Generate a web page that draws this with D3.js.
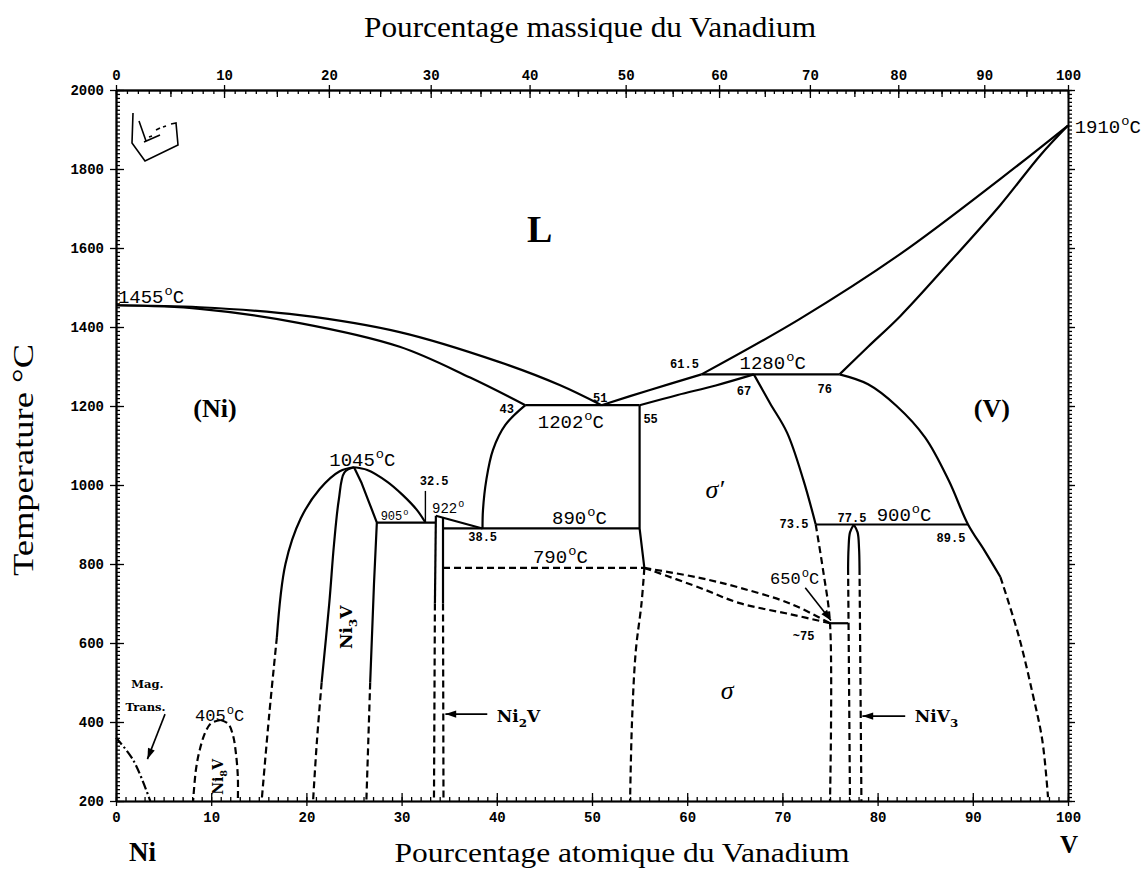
<!DOCTYPE html>
<html><head><meta charset="utf-8">
<script src="https://cdn.jsdelivr.net/npm/d3@7"></script>
<style>
body{margin:0;background:#fff}
svg{display:block}
</style></head><body>
<svg id="chart" width="1143" height="872"></svg>
<script>
// ---------- axis ticks ----------
const atTicks = d3.range(0, 101, 10);          // atomic % V (bottom)
const wtTicks = d3.range(0, 101, 10);          // mass % V (top)
const tempTicks = d3.range(200, 2001, 200);    // °C (left)

// ---------- phase boundaries, [at.% V, °C] ----------
const liquidusNi     = [[0,1455],[8.8,1450],[19.3,1430],[29.8,1387],[40.3,1311],[46.6,1253],[51,1202]];
const solidusNi      = [[0,1455],[8.8,1446],[19.3,1410],[29.8,1350],[37.2,1272],[43,1202]];
const eutectic1202   = [[43,1202],[55,1202]];
const liquidusSigma  = [[51,1202],[56,1240],[61.5,1280]];
const solidusSigma   = [[55,1202],[59,1228],[63,1252],[67,1280]];
const peritectic1280 = [[61.5,1280],[76,1280]];
const liquidusV      = [[61.5,1280],[71.8,1420],[82.4,1585],[92.9,1775],[100,1910]];
const solidusV       = [[76,1280],[79,1350],[82.4,1428],[87.6,1565],[92.9,1709],[97.1,1835],[100,1910]];
const solvusV        = [[76,1280],[79,1255],[82,1200],[85,1120],[87.5,1010],[89.5,900],[91.2,835],[92.9,767]];
const solvusVLow     = [[92.9,767],[94.8,620],[96.3,470],[97.3,354],[97.9,210]];
const solvusNiHigh   = [[43,1202],[40.9,1152],[39.6,1089],[38.9,1013],[38.55,937],[38.5,890]];
const sigmaPLeft     = [[55,1202],[55,890],[55.5,790]];
const sigmaLeftLow   = [[55.5,790],[55.2,700],[54.6,580],[54.2,400],[54,200]];
const sigmaPRight    = [[67,1280],[68.7,1207],[70.5,1132],[72.2,1013],[73.5,900]];
const sigmaRightLow  = [[73.5,900],[74.3,780],[75,650],[75,200]];
const eutectoid890   = [[34.35,890],[55,890]];
const line790        = [[34.35,790],[55.5,790]];
const eutectoid900   = [[73.5,900],[89.5,900]];
const eutectoid905   = [[27.4,905],[33.6,905]];
const eutectoid650   = [[75,650],[76.9,650]];
const peritectic922  = [[33.6,922],[38.5,890]];
const fanUpper       = [[55.5,790],[61.3,765],[65.5,740],[70.8,700],[75,650]];
const fanLower       = [[55.5,790],[61.3,740],[65.5,701],[70.8,673],[75,650]];
// (Ni) / Ni3V dome
const niOuterLeft    = [[25,1045],[23.5,1035],[21.4,990],[19.4,915],[17.8,800],[16.9,615]];
const niOuterLeftLow = [[16.9,615],[16.1,420],[15.3,200]];
const niOuterRight   = [[25,1045],[26.4,1038],[28.5,1008],[30.1,975],[31.6,937],[32.5,905]];
const ni3vLeft       = [[25,1045],[24,1032],[23.4,962],[22.9,850],[22.4,700],[21.6,500]];
const ni3vLeftLow    = [[21.6,500],[21.1,350],[20.7,200]];
const ni3vRight      = [[25,1045],[25.8,1005],[26.6,955],[27.4,905],[27.1,750],[26.7,500]];
const ni3vRightLow   = [[26.7,500],[26.5,350],[26.3,200]];
// Ni2V
const ni2vLeft       = [[33.6,922],[33.5,700]];
const ni2vLeftLow    = [[33.5,700],[33.4,200]];
const ni2vRight      = [[34.35,917],[34.35,700]];
const ni2vRightLow   = [[34.35,700],[34.4,200]];
// NiV3
const niv3Left       = [[77.5,900],[77.1,880],[76.95,840],[76.9,790]];
const niv3LeftLow    = [[76.9,790],[77,500],[77.1,200]];
const niv3Right      = [[77.5,900],[77.9,880],[78.05,840],[78.1,790]];
const niv3RightLow   = [[78.1,790],[78.2,500],[78.3,200]];
// Ni8V dome
const ni8vLeft       = [[11,405],[10,397],[9.4,375],[8.8,330],[8.4,280],[8.1,200]];
const ni8vRight      = [[11,405],[11.8,395],[12.3,365],[12.6,320],[12.8,260],[12.8,200]];
// magnetic transition
const magTrans       = [[0,360],[1.8,304],[3.6,200]];
const leader325      = [[32.5,905],[32.5,985]];

// ---------- arrows [from, to] ----------
const arrowMag  = [[5.15,420],[3.3,306]];
const arrowNi2V = [[39,420],[34.6,420]];
const arrowNiV3 = [[82.9,415],[78.4,415]];
const arrow650  = [[72.4,740],[75.1,657]];

// ---------- labels ----------
const tempLabels = [ // [number, suffix, at.%, °C, size]
  ["1455","C",0.2,1461,19],["1910","C",100.7,1891,19],["1202","C",44.3,1144,19],
  ["1280","C",65.5,1294,19],["1045","C",22.4,1048,19],["890","C",45.8,901,19],
  ["790","C",43.8,803,19],["900","C",79.9,909,19],["650","C",68.7,749,17],
  ["405","C",8.3,403,17],["922","",33.2,929,14],["905","",27.8,911,12]
];
const compLabels = [ // [text, at.%, °C, anchor]
  ["43",41.8,1182,"end"],["51",50.1,1210,"start"],["55",55.4,1157,"start"],
  ["61.5",58.2,1296,"start"],["67",65.2,1228,"start"],["76",73.7,1233,"start"],
  ["32.5",31.9,1000,"start"],["38.5",37,858,"start"],["73.5",69.7,891,"start"],
  ["77.5",75.8,906,"start"],["89.5",86.2,856,"start"],["~75",71.1,608,"start"]
];

// ---------- drawing ----------
const W = 1143, H = 872;
const svg = d3.select("#chart");
svg.append("rect").attr("width", W).attr("height", H).attr("fill", "#fff");

const x = d3.scaleLinear().domain([0, 100]).range([116, 1068]);
const y = d3.scaleLinear().domain([200, 2000]).range([801, 90]);

// mass % V -> atomic % V, for the upper scale
const M_NI = 58.6934, M_V = 50.9415;
const wtToAt = w => w <= 0 ? 0 : w >= 100 ? 100 : (w / M_V) / (w / M_V + (100 - w) / M_NI) * 100;
const wtSteps = d3.range(0, 101, 1);
const xw = d3.scaleLinear().domain(wtSteps).range(wtSteps.map(w => x(wtToAt(w))));

const monoFont = "'Liberation Mono','DejaVu Sans Mono',monospace";
const serifFont = "'Liberation Serif','Times New Roman',serif";

const defs = svg.append("defs");
defs.append("marker").attr("id", "arr").attr("viewBox", "0 0 12 10")
  .attr("refX", 12).attr("refY", 5).attr("markerWidth", 12).attr("markerHeight", 9)
  .attr("markerUnits", "userSpaceOnUse").attr("orient", "auto")
  .append("path").attr("d", "M0,1 L12,5 L0,9 Z").attr("fill", "#000");

// axes
const gAx = svg.append("g");
function addAxis(gen, tx, ty) {
  const g = gAx.append("g").attr("transform", `translate(${tx},${ty})`).call(gen);
  g.select(".domain").attr("stroke", "#000").attr("stroke-width", 1.6);
  g.selectAll(".tick line").attr("stroke", "#000").attr("stroke-width", 1.3);
  g.selectAll("text").attr("font-family", monoFont).attr("font-weight", "bold")
    .attr("font-size", 14).attr("fill", "#000");
  return g;
}
const noLab = () => "";
// bottom
addAxis(d3.axisBottom(x).tickValues(d3.range(0, 101, 1)).tickSize(-4).tickSizeOuter(0).tickFormat(noLab), 0, 801);
addAxis(d3.axisBottom(x).tickValues(atTicks).tickSize(-8).tickSizeOuter(0).tickFormat(noLab), 0, 801);
addAxis(d3.axisBottom(x).tickValues(atTicks).tickSize(5).tickSizeOuter(0).tickPadding(6).tickFormat(d3.format("d")), 0, 801);
// top
addAxis(d3.axisTop(xw).tickValues(wtSteps).tickSize(-4).tickSizeOuter(0).tickFormat(noLab), 0, 90);
addAxis(d3.axisTop(xw).tickValues(d3.range(5, 100, 10)).tickSize(-7).tickSizeOuter(0).tickFormat(noLab), 0, 90);
addAxis(d3.axisTop(xw).tickValues(wtTicks).tickSize(-8).tickSizeOuter(0).tickFormat(noLab), 0, 90);
addAxis(d3.axisTop(xw).tickValues(wtTicks).tickSize(5).tickSizeOuter(0).tickPadding(5).tickFormat(d3.format("d")), 0, 90);
// left
addAxis(d3.axisLeft(y).tickValues(d3.range(200, 2001, 10)).tickSize(-4).tickSizeOuter(0).tickFormat(noLab), 116, 0);
addAxis(d3.axisLeft(y).tickValues(tempTicks).tickSize(-8).tickSizeOuter(0).tickFormat(noLab), 116, 0);
addAxis(d3.axisLeft(y).tickValues(tempTicks).tickSize(6).tickSizeOuter(0).tickPadding(6).tickFormat(d3.format("d")), 116, 0);
// right
addAxis(d3.axisRight(y).tickValues(d3.range(200, 2001, 10)).tickSize(4).tickSizeOuter(0).tickFormat(noLab), 1068, 0);
addAxis(d3.axisRight(y).tickValues(tempTicks).tickSize(7).tickSizeOuter(0).tickFormat(noLab), 1068, 0);

// phase boundaries
const smooth = d3.line().x(d => x(d[0])).y(d => y(d[1])).curve(d3.curveCatmullRom.alpha(0.5));
const straight = d3.line().x(d => x(d[0])).y(d => y(d[1]));
const DASH = "7,4";
const boundaries = [
  [liquidusNi, smooth, null], [solidusNi, smooth, null], [eutectic1202, straight, null],
  [liquidusSigma, smooth, null], [solidusSigma, smooth, null], [peritectic1280, straight, null],
  [liquidusV, smooth, null], [solidusV, smooth, null], [solvusV, smooth, null], [solvusVLow, smooth, DASH],
  [solvusNiHigh, smooth, null], [sigmaPLeft, straight, null], [sigmaLeftLow, smooth, DASH],
  [sigmaPRight, smooth, null], [sigmaRightLow, smooth, DASH], [eutectoid890, straight, null],
  [line790, straight, DASH], [eutectoid900, straight, null], [eutectoid905, straight, null],
  [eutectoid650, straight, null], [peritectic922, straight, null],
  [fanUpper, smooth, DASH], [fanLower, smooth, DASH],
  [niOuterLeft, smooth, null], [niOuterLeftLow, smooth, DASH], [niOuterRight, smooth, null],
  [ni3vLeft, smooth, null], [ni3vLeftLow, smooth, DASH], [ni3vRight, straight, null], [ni3vRightLow, smooth, DASH],
  [ni2vLeft, straight, null], [ni2vLeftLow, straight, DASH], [ni2vRight, straight, null], [ni2vRightLow, straight, DASH],
  [niv3Left, smooth, null], [niv3LeftLow, smooth, DASH], [niv3Right, smooth, null], [niv3RightLow, smooth, DASH],
  [ni8vLeft, smooth, DASH], [ni8vRight, smooth, DASH],
  [magTrans, smooth, "9,3,2,3"], [leader325, straight, null]
];
const gB = svg.append("g").attr("fill", "none").attr("stroke", "#000")
  .attr("stroke-width", 2.2).attr("stroke-linejoin", "round");
boundaries.forEach(([pts, gen, dash]) => {
  const p = gB.append("path").attr("d", gen(pts));
  if (dash) p.attr("stroke-dasharray", dash);
  if (pts === leader325) p.attr("stroke-width", 1.4);
});

// arrows
[arrowMag, arrowNi2V, arrowNiV3, arrow650].forEach(a => {
  svg.append("line").attr("x1", x(a[0][0])).attr("y1", y(a[0][1]))
    .attr("x2", x(a[1][0])).attr("y2", y(a[1][1]))
    .attr("stroke", "#000").attr("stroke-width", 1.6).attr("marker-end", "url(#arr)");
});

// temperature labels with raised degree mark
const gT = svg.append("g").attr("font-family", monoFont).attr("fill", "#000");
tempLabels.forEach(([num, suf, a, t, s]) => {
  const tx = gT.append("text").attr("x", x(a)).attr("y", y(t)).attr("font-size", s);
  tx.append("tspan").text(num);
  tx.append("tspan").attr("font-size", s * 0.72).attr("dy", -s * 0.42).attr("dx", 1).text("o");
  if (suf) tx.append("tspan").attr("dy", s * 0.42).text(suf);
});
// composition labels
compLabels.forEach(([t, a, tc, anc]) => {
  gT.append("text").attr("x", x(a)).attr("y", y(tc)).attr("font-size", 12)
    .attr("font-weight", "bold").attr("text-anchor", anc).text(t);
});

// phase field labels
const gP = svg.append("g").attr("fill", "#000");
gP.append("text").attr("x", x(44.5)).attr("y", y(1615)).attr("text-anchor", "middle")
  .attr("font-family", serifFont).attr("font-weight", "bold").attr("font-size", 38).text("L");
gP.append("text").attr("x", x(10.4)).attr("y", y(1172)).attr("text-anchor", "middle")
  .attr("font-family", serifFont).attr("font-weight", "bold").attr("font-size", 26).text("(Ni)");
gP.append("text").attr("x", x(92)).attr("y", y(1172)).attr("text-anchor", "middle")
  .attr("font-family", serifFont).attr("font-weight", "bold").attr("font-size", 26).text("(V)");
gP.append("text").attr("x", x(62.9)).attr("y", y(967)).attr("text-anchor", "middle")
  .attr("font-family", serifFont).attr("font-style", "italic").attr("font-size", 26).text("σ′");
gP.append("text").attr("x", x(64.2)).attr("y", y(458)).attr("text-anchor", "middle")
  .attr("font-family", serifFont).attr("font-style", "italic").attr("font-size", 26).text("σ");

// compound labels
function compound(g, base, sub, tail, size) {
  g.append("tspan").text(base);
  g.append("tspan").attr("font-size", size * 0.7).attr("dy", size * 0.28).text(sub);
  g.append("tspan").attr("dy", -size * 0.28).text(tail);
}
const cFont = "'DejaVu Serif',serif";
compound(gP.append("text").attr("x", x(40)).attr("y", y(400)).attr("font-family", cFont)
  .attr("font-weight", "bold").attr("font-size", 17), "Ni", "2", "V", 17);
compound(gP.append("text").attr("x", x(83.9)).attr("y", y(400)).attr("font-family", cFont)
  .attr("font-weight", "bold").attr("font-size", 17), "NiV", "3", "", 17);
compound(gP.append("text").attr("font-family", cFont).attr("font-weight", "bold").attr("font-size", 17)
  .attr("text-anchor", "middle")
  .attr("transform", `translate(${x(24.8)},${y(640)}) rotate(-90)`), "Ni", "3", "V", 17);
compound(gP.append("text").attr("font-family", cFont).attr("font-weight", "bold").attr("font-size", 14)
  .attr("text-anchor", "middle")
  .attr("transform", `translate(${x(11.2)},${y(261)}) rotate(-90)`), "Ni", "8", "V", 14);
gP.append("text").attr("x", x(1.6)).attr("y", y(486)).attr("font-family", cFont)
  .attr("font-weight", "bold").attr("font-size", 11.5).text("Mag.");
gP.append("text").attr("x", x(1.0)).attr("y", y(428)).attr("font-family", cFont)
  .attr("font-weight", "bold").attr("font-size", 11.5).text("Trans.");

// small sketch in the upper-left corner of the frame
const sketch = [[17,23],[16,53],[29,71],[62,55],[60,33],[55,34]];
const sk = svg.append("g").attr("transform", `translate(${x(0)},${y(2000)})`)
  .attr("fill", "none").attr("stroke", "#000").attr("stroke-width", 1.6);
sk.append("path").attr("d", d3.line()(sketch));
sk.append("path").attr("d", "M23,31 L30,51 M28,52 L44,45 M40,40 L44,38 M47,37 L50,36 M33,47 L36,46");

// axis titles
svg.append("text").attr("x", 590).attr("y", 37).attr("text-anchor", "middle")
  .attr("font-family", serifFont).attr("font-size", 29)
  .attr("textLength", 452).attr("lengthAdjust", "spacingAndGlyphs").text("Pourcentage massique du Vanadium");
svg.append("text").attr("x", 622).attr("y", 862).attr("text-anchor", "middle")
  .attr("font-family", serifFont).attr("font-size", 27)
  .attr("textLength", 455).attr("lengthAdjust", "spacingAndGlyphs").text("Pourcentage atomique du Vanadium");
svg.append("text").attr("transform", "translate(33,460) rotate(-90)").attr("text-anchor", "middle")
  .attr("font-family", serifFont).attr("font-size", 30)
  .attr("textLength", 232).attr("lengthAdjust", "spacingAndGlyphs").text("Temperature °C");
svg.append("text").attr("x", 129).attr("y", 861).attr("font-family", serifFont)
  .attr("font-weight", "bold").attr("font-size", 27).text("Ni");
svg.append("text").attr("x", 1060).attr("y", 853).attr("font-family", serifFont)
  .attr("font-weight", "bold").attr("font-size", 25).text("V");
</script>
</body></html>
